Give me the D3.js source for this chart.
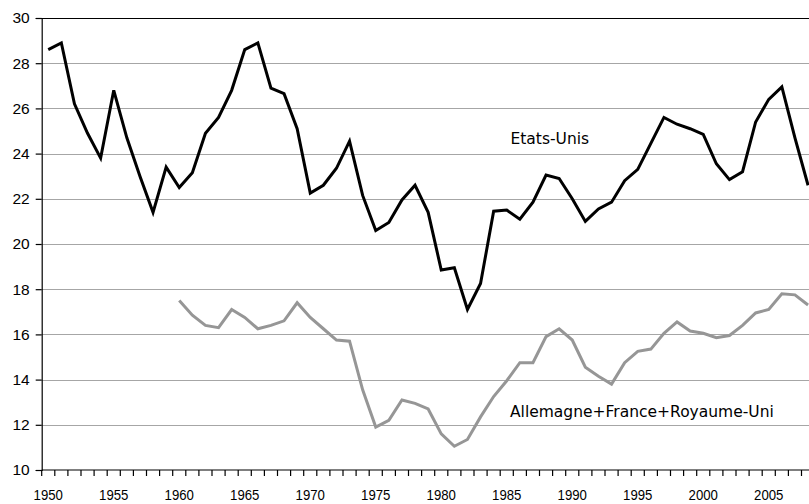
<!DOCTYPE html>
<html>
<head>
<meta charset="utf-8">
<script src="https://cdn.jsdelivr.net/npm/d3@7"></script>
<style>
  html, body { margin: 0; padding: 0; background: #fff; overflow: hidden; }
  svg { display: block; }
  .tick text { font-family: "Liberation Sans", Arial, sans-serif; fill: #000; }
  .series-label { font-family: "DejaVu Sans", Verdana, sans-serif; font-size: 15.5px; fill: #000; }
</style>
</head>
<body>
<div id="chart-div"></div>
<script>
// years on the category axis
var years = d3.range(1950, 2009);

// Etats-Unis, 1950-2008
var usValues = [28.6, 28.9, 26.2, 24.9, 23.8, 26.8, 24.7, 23.0, 21.4, 23.4,
                22.5, 23.15, 24.9, 25.6, 26.8, 28.6, 28.9, 26.9, 26.65, 25.1,
                22.25, 22.6, 23.35, 24.55, 22.15, 20.6, 20.95, 21.95, 22.6, 21.4,
                18.85, 18.95, 17.1, 18.25, 21.45, 21.5, 21.1, 21.85, 23.05, 22.9,
                22.0, 21.0, 21.55, 21.85, 22.8, 23.3, 24.45, 25.6, 25.3, 25.1,
                24.85, 23.55, 22.85, 23.2, 25.4, 26.4, 26.95, 24.7, 22.6];

// Allemagne+France+Royaume-Uni, 1960-2008
var euYears = d3.range(1960, 2009);
var euValues = [17.5, 16.85, 16.4, 16.3, 17.1, 16.75, 16.25, 16.4, 16.6, 17.4,
                16.75, 16.25, 15.75, 15.7, 13.55, 11.9, 12.2, 13.1, 12.95, 12.7,
                11.6, 11.05, 11.35, 12.35, 13.25, 13.95, 14.75, 14.75, 15.9, 16.25,
                15.75, 14.55, 14.15, 13.8, 14.75, 15.25, 15.35, 16.05, 16.55, 16.15,
                16.05, 15.85, 15.95, 16.4, 16.95, 17.1, 17.8, 17.75, 17.3];

var yTicks = [10, 12, 14, 16, 18, 20, 22, 24, 26, 28, 30];
var labelYears = [1950, 1955, 1960, 1965, 1970, 1975, 1980, 1985, 1990, 1995, 2000, 2005];

var width = 809, height = 504;
var margin = {top: 18, left: 41.7, bottom: 34};
var plotRight = margin.left + years.length * 13.1;   // runs past the right edge, as in the source

var svg = d3.select('#chart-div')
            .append('svg')
            .attr('width', width)
            .attr('height', height);

var x = d3.scaleBand()
    .domain(years)
    .range([margin.left, plotRight])
    .padding(0);

var y = d3.scaleLinear()
    .domain([10, 30])
    .range([height - margin.bottom, margin.top]);

var cx = function(yr) { return x(yr) + x.bandwidth() / 2; };

// gridlines
svg.append('g')
    .selectAll('line')
    .data(yTicks.filter(function(d) { return d > 10 && d < 30; }))
    .enter().append('line')
    .attr('x1', margin.left)
    .attr('x2', plotRight)
    .attr('y1', function(d) { return Math.round(y(d)) + 0.5; })
    .attr('y2', function(d) { return Math.round(y(d)) + 0.5; })
    .attr('stroke', '#a6a6a6')
    .attr('stroke-width', 1.2);

// top border
svg.append('line')
    .attr('x1', margin.left).attr('x2', plotRight)
    .attr('y1', Math.round(y(30)) + 0.5).attr('y2', Math.round(y(30)) + 0.5)
    .attr('stroke', '#000').attr('stroke-width', 1.2);

// y axis
var yAxis = d3.axisLeft(y).tickValues(yTicks).tickSize(6).tickPadding(6);
svg.append('g')
    .attr('class', 'y axis')
    .attr('transform', 'translate(' + margin.left + ',0)')
    .call(yAxis)
    .call(function(g) {
        g.selectAll('text').style('font-size', '15.5px');
        g.selectAll('line, path').attr('stroke', '#000').attr('stroke-width', 1.2);
    });

// x axis: tick marks on category boundaries
var bounds = years.concat([2009]);
var xTickG = svg.append('g').attr('class', 'x ticks');
xTickG.append('line')
    .attr('x1', margin.left).attr('x2', plotRight)
    .attr('y1', y(10)).attr('y2', y(10))
    .attr('stroke', '#000').attr('stroke-width', 1.2);
xTickG.selectAll('.xt')
    .data(bounds)
    .enter().append('line')
    .attr('class', 'xt')
    .attr('x1', function(d) { return d === 2009 ? plotRight : x(d); })
    .attr('x2', function(d) { return d === 2009 ? plotRight : x(d); })
    .attr('y1', y(10))
    .attr('y2', y(10) + 6)
    .attr('stroke', '#000')
    .attr('stroke-width', 1.2);

// x axis labels, centred in each category
var xAxis = d3.axisBottom(x).tickValues(labelYears).tickSize(0).tickPadding(19.8);
svg.append('g')
    .attr('class', 'x axis')
    .attr('transform', 'translate(0,' + y(10) + ')')
    .call(xAxis)
    .call(function(g) {
        g.select('.domain').remove();
        g.selectAll('text')
            .style('font-size', '15px')
            .attr('transform', 'scale(0.88,1)');
    });

var line = d3.line()
    .x(function(d) { return cx(d.year); })
    .y(function(d) { return y(d.value); });

var usData = years.map(function(yr, i) { return {year: yr, value: usValues[i]}; });
var euData = euYears.map(function(yr, i) { return {year: yr, value: euValues[i]}; });

svg.append('path')
    .datum(euData)
    .attr('fill', 'none')
    .attr('stroke', '#969696')
    .attr('stroke-width', 3)
    .attr('stroke-linejoin', 'miter')
    .attr('d', line);

svg.append('path')
    .datum(usData)
    .attr('fill', 'none')
    .attr('stroke', '#000')
    .attr('stroke-width', 3)
    .attr('stroke-linejoin', 'miter')
    .attr('d', line);

// series labels
svg.append('text')
    .attr('class', 'series-label')
    .attr('x', 510.5)
    .attr('y', 143.5)
    .text('Etats-Unis');

svg.append('text')
    .attr('class', 'series-label')
    .attr('x', 510)
    .attr('y', 416.5)
    .text('Allemagne+France+Royaume-Uni');
</script>
</body>
</html>
